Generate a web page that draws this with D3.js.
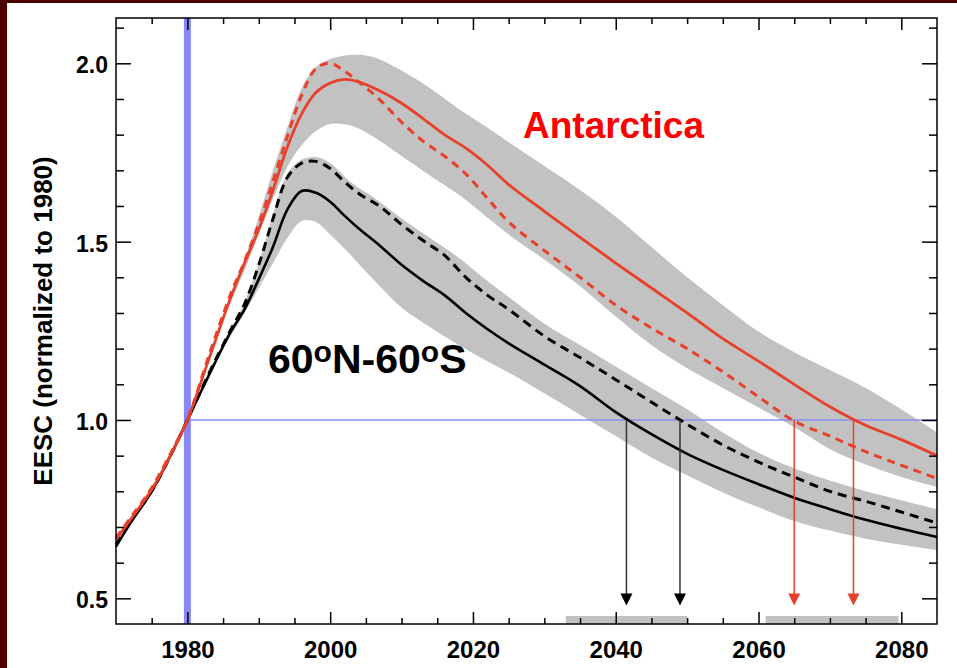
<!DOCTYPE html>
<html>
<head>
<meta charset="utf-8">
<script src="https://cdn.jsdelivr.net/npm/d3@7"></script>
<style>
body{margin:0;background:#4c0000;}
svg{display:block;}
text{font-family:"Liberation Sans",Arial,Helvetica,sans-serif;font-weight:bold;}
</style>
</head>
<body>
<div id="chart"></div>
<script>
// years for the four EESC curves
const years = [1970,1972,1975,1978,1980,1983,1986,1988,1990,1992,1994,1996,1998,2000,2002,2004,2007,2010,2013,2016,2019,2022,2025,2030,2035,2040,2045,2050,2055,2060,2065,2070,2075,2080,2085];

// 60N-60S, solid and dashed
const midSolid  = [0.645,0.71,0.80,0.915,1.0,1.125,1.245,1.31,1.395,1.486,1.59,1.642,1.637,1.612,1.573,1.537,1.488,1.435,1.39,1.35,1.30,1.255,1.215,1.155,1.095,1.022,0.96,0.905,0.86,0.82,0.782,0.75,0.72,0.695,0.672];
const midDashed = [0.65,0.715,0.80,0.915,1.0,1.13,1.25,1.325,1.435,1.565,1.68,1.72,1.725,1.705,1.668,1.635,1.598,1.548,1.503,1.462,1.40,1.35,1.31,1.235,1.175,1.113,1.05,0.988,0.93,0.882,0.84,0.80,0.772,0.742,0.711];

// Antarctica, solid and dashed
const antSolid  = [0.665,0.72,0.805,0.915,1.0,1.17,1.34,1.44,1.535,1.645,1.765,1.858,1.918,1.945,1.955,1.948,1.922,1.888,1.845,1.80,1.762,1.715,1.66,1.585,1.512,1.44,1.37,1.30,1.228,1.165,1.10,1.037,0.985,0.945,0.90];
const antDashed = [0.67,0.725,0.81,0.92,1.0,1.18,1.35,1.445,1.55,1.67,1.795,1.91,1.985,2.0,1.978,1.948,1.897,1.835,1.782,1.74,1.69,1.622,1.555,1.475,1.40,1.322,1.258,1.20,1.135,1.065,0.997,0.955,0.911,0.873,0.836];

// grey uncertainty bands
const bandYears = [1985,1988,1990,1992,1994,1996,1998,2000,2003,2006,2010,2014,2018,2022,2026,2030,2035,2040,2045,2050,2055,2060,2065,2070,2075,2080,2085];
const antUpper = [1.29,1.45,1.57,1.70,1.82,1.93,1.99,2.012,2.024,2.018,1.98,1.93,1.872,1.82,1.765,1.712,1.645,1.57,1.485,1.40,1.322,1.248,1.19,1.14,1.09,1.03,0.965];
const antLower = [1.28,1.42,1.52,1.62,1.71,1.77,1.81,1.83,1.825,1.795,1.74,1.685,1.632,1.568,1.505,1.45,1.375,1.29,1.21,1.145,1.09,1.035,0.98,0.918,0.875,0.84,0.812];
const midUpper = [1.21,1.33,1.44,1.575,1.69,1.73,1.737,1.72,1.665,1.625,1.565,1.51,1.455,1.39,1.33,1.27,1.21,1.15,1.09,1.03,0.965,0.908,0.865,0.83,0.80,0.775,0.75];
const midLower = [1.20,1.30,1.37,1.44,1.51,1.558,1.555,1.52,1.46,1.395,1.315,1.26,1.21,1.165,1.122,1.075,1.015,0.955,0.895,0.845,0.797,0.755,0.717,0.69,0.667,0.65,0.635];

// return-to-1980 years and their ranges
const returnYears  = [2041.5, 2049, 2065, 2073.3];
const returnColors = ["#333", "#333", "#e8402a", "#e8402a"];
const headColors   = ["#000", "#000", "#e8402a", "#e8402a"];
const returnRanges = [[2033, 2050], [2061, 2079.6]];
const arrowTip = 0.48;

const xMajor = [1980, 2000, 2020, 2040, 2060, 2080];
const yMajor = [0.5, 1.0, 1.5, 2.0];

const W = 957, H = 668;
const margin = {top: 18, right: 20, bottom: 44, left: 116};
const width = W - margin.left - margin.right,
      height = H - margin.top - margin.bottom;

const svg = d3.select("#chart").append("svg")
    .attr("width", W)
    .attr("height", H);

svg.append("rect").attr("width", W).attr("height", H).attr("fill", "#4c0000");
svg.append("rect").attr("x", 7).attr("y", 3).attr("width", W).attr("height", H).attr("fill", "#fff");

const g = svg.append("g")
    .attr("transform", "translate(" + margin.left + "," + margin.top + ")");

const x = d3.scaleLinear().domain([1970, 2085]).range([0, width]);
const y = d3.scaleLinear().domain([0.428, 2.127]).range([height, 0]);

const xMinor = d3.range(1975, 2085, 5).filter(d => xMajor.indexOf(d) < 0);
const yMinor = d3.range(6, 22).map(d => d / 10).filter(d => yMajor.indexOf(d) < 0);

// blue marker at 1980
g.append("rect")
    .attr("x", x(1980) - 3.5)
    .attr("y", 0)
    .attr("width", 7)
    .attr("height", height)
    .attr("fill", "#8787f5");

// bands
const band = (lo, hi) => d3.area()
    .x((d, i) => x(bandYears[i]))
    .y0((d, i) => y(lo[i]))
    .y1((d, i) => y(hi[i]))
    .curve(d3.curveCatmullRom)(bandYears);

g.append("path").attr("d", band(antLower, antUpper)).attr("fill", "#c2c2c2");
g.append("path").attr("d", band(midLower, midUpper)).attr("fill", "#c2c2c2");

// 1980 level
g.append("line")
    .attr("x1", x(1980)).attr("x2", width)
    .attr("y1", y(1.0)).attr("y2", y(1.0))
    .attr("stroke", "#8c8cf0")
    .attr("stroke-width", 1.4);

// return ranges on the bottom axis
g.selectAll(".range")
    .data(returnRanges)
    .enter().append("rect")
    .attr("class", "range")
    .attr("x", d => x(d[0]))
    .attr("width", d => x(d[1]) - x(d[0]))
    .attr("y", height - 8)
    .attr("height", 8)
    .attr("fill", "#c2c2c2");

// curves
const line = d3.line()
    .x((d, i) => x(years[i]))
    .y(d => y(d))
    .curve(d3.curveCatmullRom);

const series = [
  {vals: midSolid,  color: "#000",    dash: null,  w: 2.6},
  {vals: midDashed, color: "#000",    dash: "9,6", w: 3},
  {vals: antSolid,  color: "#e8402a", dash: null,  w: 2.8},
  {vals: antDashed, color: "#e8402a", dash: "8,6", w: 3}
];

g.selectAll(".curve")
    .data(series)
    .enter().append("path")
    .attr("class", "curve")
    .attr("d", d => line(d.vals))
    .attr("fill", "none")
    .attr("stroke", d => d.color)
    .attr("stroke-width", d => d.w)
    .attr("stroke-dasharray", d => d.dash);

// arrows down to the axis
const arrows = g.selectAll(".arrow")
    .data(returnYears)
    .enter().append("g")
    .attr("class", "arrow");

arrows.append("line")
    .attr("x1", d => x(d)).attr("x2", d => x(d))
    .attr("y1", y(1.0)).attr("y2", y(arrowTip) - 8)
    .attr("stroke", (d, i) => returnColors[i])
    .attr("stroke-width", 1.5);

arrows.append("path")
    .attr("d", d => "M" + (x(d) - 6) + "," + (y(arrowTip) - 12)
        + "L" + (x(d) + 6) + "," + (y(arrowTip) - 12)
        + "L" + x(d) + "," + y(arrowTip) + "Z")
    .attr("fill", (d, i) => headColors[i]);

// axes, ticks pointing inward
const tickStyle = sel => {
  sel.select(".domain").remove();
  sel.selectAll("line").attr("stroke", "#000").attr("stroke-width", 1.5);
  sel.selectAll("text").attr("fill", "#000");
};

g.append("g").attr("transform", "translate(0," + height + ")")
    .call(d3.axisBottom(x).tickValues(xMinor).tickSize(-6).tickFormat(""))
    .call(tickStyle);
g.append("g").attr("transform", "translate(0," + height + ")")
    .call(d3.axisBottom(x).tickValues(xMajor).tickSize(-12).tickPadding(17).tickFormat(d3.format("d")))
    .call(tickStyle)
    .selectAll("text").style("font-size", "24px");

g.append("g")
    .call(d3.axisTop(x).tickValues(xMinor).tickSize(-6).tickFormat(""))
    .call(tickStyle);
g.append("g")
    .call(d3.axisTop(x).tickValues(xMajor).tickSize(-12).tickFormat(""))
    .call(tickStyle);

g.append("g")
    .call(d3.axisLeft(y).tickValues(yMinor).tickSize(-8).tickFormat(""))
    .call(tickStyle);
g.append("g")
    .call(d3.axisLeft(y).tickValues(yMajor).tickSize(-15).tickPadding(8).tickFormat(d3.format(".1f")))
    .call(tickStyle)
    .selectAll("text").style("font-size", "23px").attr("dy", "0.42em");

g.append("g").attr("transform", "translate(" + width + ",0)")
    .call(d3.axisRight(y).tickValues(yMinor).tickSize(-8).tickFormat(""))
    .call(tickStyle);
g.append("g").attr("transform", "translate(" + width + ",0)")
    .call(d3.axisRight(y).tickValues(yMajor).tickSize(-15).tickFormat(""))
    .call(tickStyle);

g.append("rect")
    .attr("width", width)
    .attr("height", height)
    .attr("fill", "none")
    .attr("stroke", "#000")
    .attr("stroke-width", 1.5);

// labels
svg.append("text")
    .attr("transform", "translate(52,321) rotate(-90)")
    .attr("text-anchor", "middle")
    .style("font-size", "26px")
    .text("EESC (normalized to 1980)");

svg.append("text")
    .attr("x", 523)
    .attr("y", 138)
    .attr("fill", "#ff0000")
    .style("font-size", "37px")
    .text("Antarctica");

const mid = svg.append("text")
    .attr("x", 268)
    .attr("y", 373)
    .style("font-size", "41px");
mid.append("tspan").text("60");
mid.append("tspan").attr("dy", -11).style("font-size", "30px").text("o");
mid.append("tspan").attr("dy", 11).text("N-60");
mid.append("tspan").attr("dy", -11).style("font-size", "30px").text("o");
mid.append("tspan").attr("dy", 11).text("S");
</script>
</body>
</html>
